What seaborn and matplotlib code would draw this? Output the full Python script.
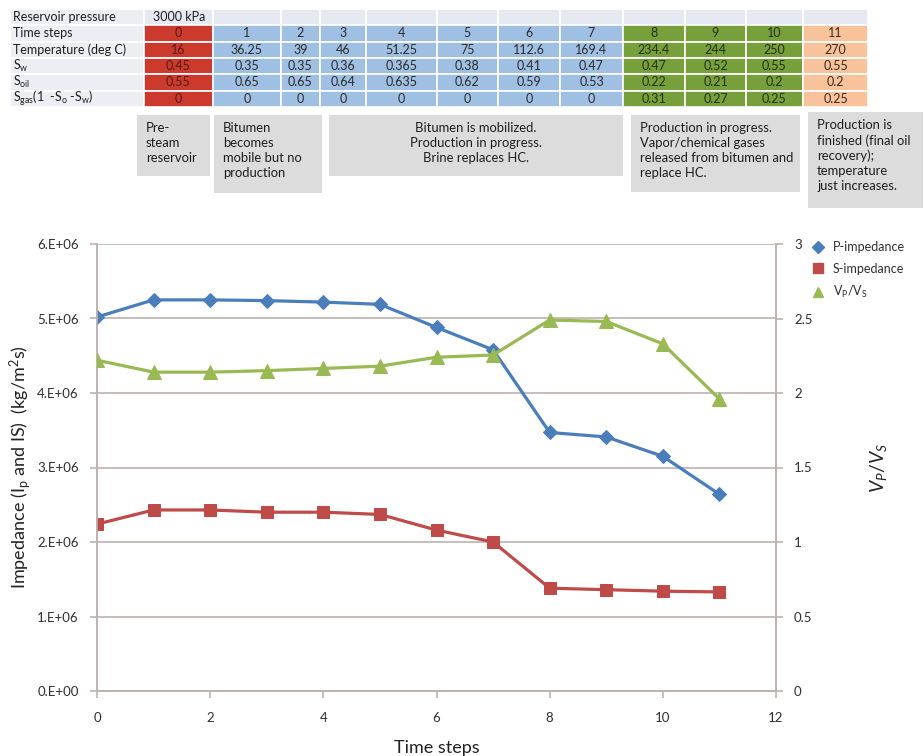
import numpy as np
import pandas as pd
import matplotlib
matplotlib.use("Agg")
import matplotlib.pyplot as plt
from matplotlib.lines import Line2D
from matplotlib.patches import Rectangle
from matplotlib.ticker import FuncFormatter, MultipleLocator
import seaborn as sns

# ---- data -------------------------------------------------------------
steps = [0, 1, 2, 3, 4, 5, 6, 7, 8, 9, 10, 11]
p_impedance = [5.02e6, 5.25e6, 5.25e6, 5.24e6, 5.22e6, 5.19e6, 4.88e6, 4.58e6,
               3.47e6, 3.41e6, 3.15e6, 2.64e6]
s_impedance = [2.24e6, 2.43e6, 2.43e6, 2.40e6, 2.40e6, 2.37e6, 2.16e6, 2.00e6,
               1.38e6, 1.36e6, 1.34e6, 1.33e6]
vp_vs = [2.22, 2.14, 2.14, 2.15, 2.165, 2.18, 2.24, 2.255, 2.49, 2.48, 2.33, 1.96]

temperature = ["16", "36.25", "39", "46", "51.25", "75", "112.6", "169.4",
               "234.4", "244", "250", "270"]
s_water = ["0.45", "0.35", "0.35", "0.36", "0.365", "0.38", "0.41", "0.47",
           "0.47", "0.52", "0.55", "0.55"]
s_oil = ["0.55", "0.65", "0.65", "0.64", "0.635", "0.62", "0.59", "0.53",
         "0.22", "0.21", "0.2", "0.2"]
s_gas = ["0", "0", "0", "0", "0", "0", "0", "0", "0.31", "0.27", "0.25", "0.25"]
row_labels = ["Reservoir pressure", "Time steps", "Temperature (deg C)",
              r"S$_{w}$", r"S$_{oil}$", r"S$_{gas}$(1  -S$_{o}$ -S$_{w}$)"]
pressure_text = "3000 kPa"
stage_notes = [
    ("Pre-\nsteam\nreservoir", "left"),
    ("Bitumen\nbecomes\nmobile but no\nproduction", "left"),
    ("Bitumen is mobilized.\nProduction in progress.\nBrine replaces HC.", "center"),
    ("Production in progress.\nVapor/chemical gases\nreleased from bitumen and\nreplace HC.", "left"),
    ("Production is\nfinished (final oil\nrecovery);\ntemperature\njust increases.", "left"),
]
series_names = ["P-impedance", "S-impedance", r"V$_P$/V$_S$"]

df = pd.DataFrame({"step": steps, "p": p_impedance, "s": s_impedance, "r": vp_vs})

# ---- style ------------------------------------------------------------
sns.set_theme(style="white")
plt.rcParams["font.family"] = ["Lato", "DejaVu Sans"]
plt.rcParams["mathtext.fontset"] = "custom"
plt.rcParams["mathtext.rm"] = "Lato"
plt.rcParams["mathtext.it"] = "Lato:italic"
plt.rcParams["mathtext.default"] = "regular"

BLUE, RED, GREEN = "#4a7ebb", "#be4b48", "#98b954"
GRID = "#bdb2b2"
TXT = "#2e2e2e"

fig = plt.figure(figsize=(9.24, 7.56), dpi=100)

# ---- chart ------------------------------------------------------------
W, H = 924, 756
ax = fig.add_axes([97 / W, 1 - 691 / H, (776 - 97) / W, (691 - 244) / H])
ax2 = ax.twinx()

sns.lineplot(data=df, x="step", y="p", ax=ax, color=BLUE, marker="D",
             markersize=7, markeredgecolor=BLUE, linewidth=2.3, zorder=4)
sns.lineplot(data=df, x="step", y="s", ax=ax, color=RED, marker="s",
             markersize=8.5, markeredgecolor=RED, linewidth=2.3, zorder=4)
sns.lineplot(data=df, x="step", y="r", ax=ax2, color=GREEN, marker="^",
             markersize=9.5, markeredgecolor=GREEN, linewidth=2.3, zorder=4)

ax.set_xlim(0, 12)
ax.set_ylim(0, 6e6)
ax2.set_ylim(0, 3)
ax.xaxis.set_major_locator(MultipleLocator(2))
ax.yaxis.set_major_locator(MultipleLocator(1e6))
ax2.yaxis.set_major_locator(MultipleLocator(0.5))
ax.yaxis.set_major_formatter(FuncFormatter(
    lambda v, p: "0.E+00" if v == 0 else f"{v / 1e6:.0f}.E+06"))
ax2.yaxis.set_major_formatter(FuncFormatter(lambda v, p: f"{v:g}"))

ax.grid(axis="y", color=GRID, linewidth=1.2)
ax.set_axisbelow(True)
for a in (ax, ax2):
    a.spines["top"].set_visible(False)
    for side in ("left", "right", "bottom"):
        a.spines[side].set_color(GRID)
        a.spines[side].set_linewidth(1.2)
    a.tick_params(colors=GRID, labelcolor=TXT, labelsize=9.5, length=5,
                  width=1.2, direction="out")
ax.tick_params(axis="x", pad=10)
ax.tick_params(axis="y", pad=8)
ax2.tick_params(axis="y", pad=8)
ax.xaxis.set_ticks_position("bottom")

ax.set_xlabel("Time steps", fontsize=13, color="#222222")
ax.xaxis.set_label_coords(0.5, -0.11)
ax.set_ylabel(r"Impedance (I$_p$ and IS)  (kg/m$^2$s)", fontsize=13,
              color="#222222")
ax.yaxis.set_label_coords(-0.094, 0.5)
ax2.set_ylabel(r"$\mathit{V_P/V_S}$", fontsize=14, color="#222222")
ax2.yaxis.set_label_coords(1.135, 0.5)

handles = [
    Line2D([], [], color=BLUE, marker="D", linestyle="none", markersize=6),
    Line2D([], [], color=RED, marker="s", linestyle="none", markersize=7),
    Line2D([], [], color=GREEN, marker="^", linestyle="none", markersize=7),
]
leg = fig.legend(handles, series_names, loc="upper left",
                 bbox_to_anchor=(799 / W, 1 - 230 / H), frameon=False,
                 fontsize=9, handletextpad=0.6, labelspacing=0.75,
                 handlelength=1.2)
for t in leg.get_texts():
    t.set_color(TXT)

# ---- property table ---------------------------------------------------
ov = fig.add_axes([0, 0, 1, 1], zorder=-1)
ov.set_xlim(0, W)
ov.set_ylim(H, 0)
ov.axis("off")

col_edges = [144, 212.5, 281, 319.5, 366, 437, 497.5, 560, 623, 685, 746, 803, 868]
row_edges = [9, 25.3, 41.6, 57.9, 74.2, 90.5, 106.8]
stage_colors = ["#cc3a2e"] + ["#9fbfe3"] * 7 + ["#77a03c"] * 3 + ["#f8c39a"]
stage_text = ["#5a1a12"] + ["#2b2b2b"] * 7 + ["#23330f"] * 3 + ["#3a2a20"]
rows = [steps, temperature, s_water, s_oil, s_gas]

for r, label in enumerate(row_labels):
    y0, y1 = row_edges[r], row_edges[r + 1]
    ov.add_patch(Rectangle((10, y0), 134, y1 - y0, facecolor="#eceef3",
                           edgecolor="white", linewidth=1.2))
    ov.text(13, (y0 + y1) / 2, label, fontsize=9, color="#1e1e1e",
            va="center", ha="left")

# header row: reservoir pressure
for c in range(12):
    x0, x1 = col_edges[c], col_edges[c + 1]
    ov.add_patch(Rectangle((x0, row_edges[0]), x1 - x0,
                           row_edges[1] - row_edges[0], facecolor="#e6e9f1",
                           edgecolor="white", linewidth=1.2))
ov.text(col_edges[0] + 9, (row_edges[0] + row_edges[1]) / 2, pressure_text,
        fontsize=9, color="#1e1e1e", va="center", ha="left")

for r, values in enumerate(rows, start=1):
    y0, y1 = row_edges[r], row_edges[r + 1]
    for c, v in enumerate(values):
        x0, x1 = col_edges[c], col_edges[c + 1]
        ov.add_patch(Rectangle((x0, y0), x1 - x0, y1 - y0,
                               facecolor=stage_colors[c], edgecolor="white",
                               linewidth=1.2))
        ov.text((x0 + x1) / 2, (y0 + y1) / 2, str(v), fontsize=9,
                color=stage_text[c], va="center", ha="center")

# stage description boxes
boxes = [(137, 115, 210, 176), (214, 115, 322, 193), (329, 115, 623, 176),
         (631, 115, 800, 192), (808, 112, 923, 208)]
for (x0, y0, x1, y1), (note, align) in zip(boxes, stage_notes):
    ov.add_patch(Rectangle((x0, y0), x1 - x0, y1 - y0, facecolor="#dcdcdc",
                           edgecolor="none"))
    tx = (x0 + x1) / 2 if align == "center" else x0 + 9
    ov.text(tx, y0 + 7, note, fontsize=9.4, color="#1e1e1e", ha=align,
            va="top", linespacing=1.3, multialignment=align)

fig.savefig("out.png", dpi=100, facecolor="white")
